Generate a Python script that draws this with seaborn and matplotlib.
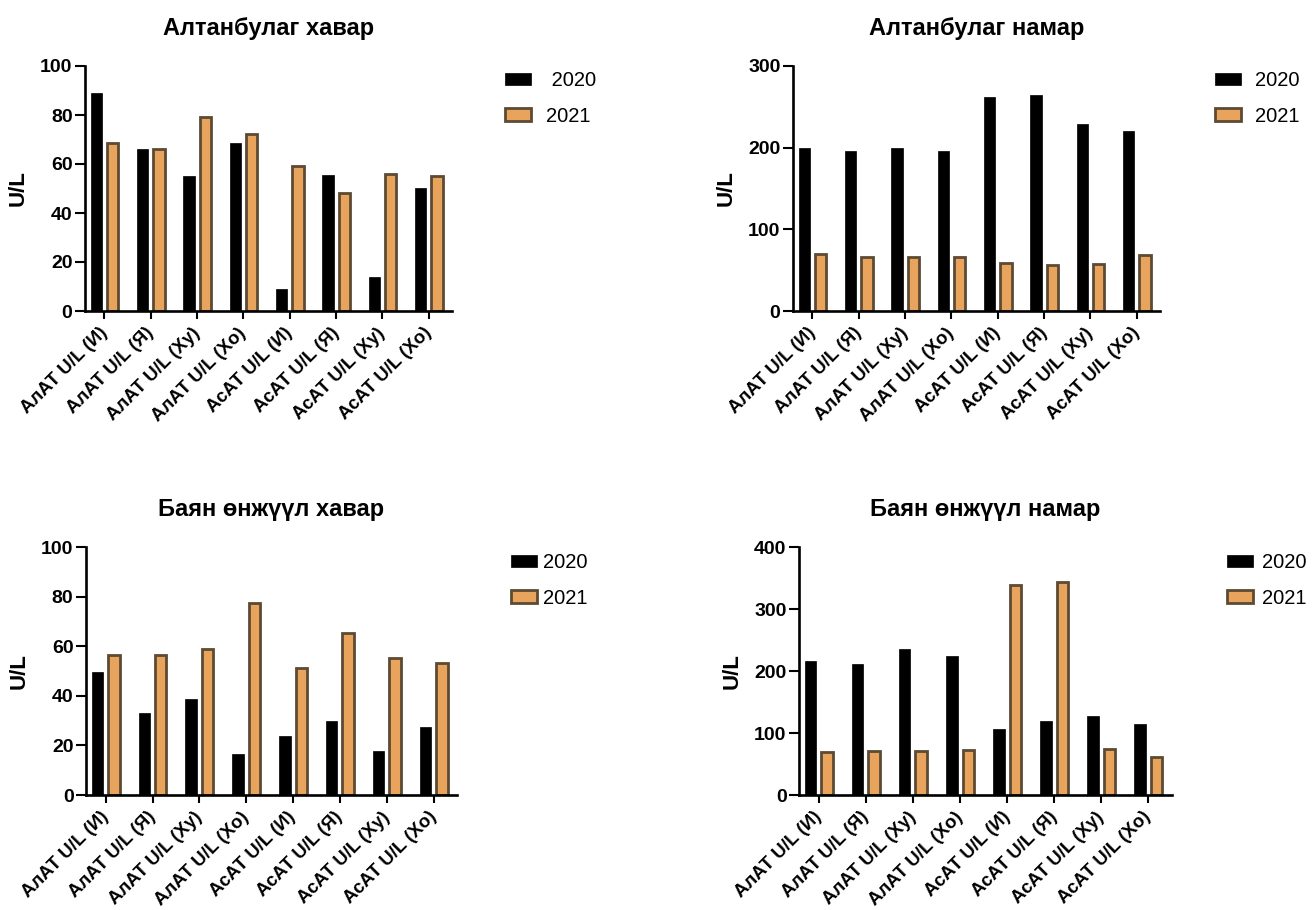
import numpy as np
import pandas as pd
import matplotlib
matplotlib.use("Agg")
import matplotlib.pyplot as plt
import seaborn as sns
from matplotlib.patches import Patch

sns.set_theme(style="white")
plt.rcParams["font.family"] = ["Liberation Sans", "DejaVu Sans"]
plt.rcParams["text.color"] = "black"
plt.rcParams["axes.labelcolor"] = "black"
plt.rcParams["xtick.color"] = "black"
plt.rcParams["ytick.color"] = "black"

# Category labels (shared by all four panels)
categories = ["АлАТ U/L (И)", "АлАТ U/L (Я)", "АлАТ U/L (Xy)", "АлАТ U/L (Xo)",
              "АсАТ U/L (И)", "АсАТ U/L (Я)", "АсАТ U/L (Xy)", "АсАТ U/L (Xo)"]
years = ["2020", "2021"]

# Panel titles
titles = ["Алтанбулаг хавар", "Алтанбулаг намар",
          "Баян өнжүүл хавар", "Баян өнжүүл намар"]

# Series values per panel
altan_spring_2020 = [89, 66.3, 55, 68.7, 9, 55.7, 14, 50.4]
altan_spring_2021 = [68.5, 66, 79.2, 72.2, 59.3, 48.3, 55.9, 55.2]
altan_autumn_2020 = [199, 196, 200, 196, 262, 264, 229, 221]
altan_autumn_2021 = [70, 66, 66, 66, 59, 56, 58, 69]
bayan_spring_2020 = [49.7, 33, 38.7, 16.4, 23.8, 30, 17.9, 27.4]
bayan_spring_2021 = [56.3, 56.3, 59, 77.6, 51.4, 65.3, 55.4, 53.3]
bayan_autumn_2020 = [216, 212, 235, 224, 107, 119, 128, 114]
bayan_autumn_2021 = [69, 71, 71, 72, 339, 343, 75, 62]

# Y-axis tick values per panel
y_ticks = [[0, 20, 40, 60, 80, 100],
           [0, 100, 200, 300],
           [0, 20, 40, 60, 80, 100],
           [0, 100, 200, 300, 400]]

# Legend labels per panel
legend_labels = [[" 2020", "2021"], ["2020", "2021"], ["2020", "2021"], ["2020", "2021"]]

series = [(altan_spring_2020, altan_spring_2021),
          (altan_autumn_2020, altan_autumn_2021),
          (bayan_spring_2020, bayan_spring_2021),
          (bayan_autumn_2020, bayan_autumn_2021)]

W, H = 1314, 910
fig = plt.figure(figsize=(W / 100, H / 100), dpi=100)

# axes boxes in pixels: left, right, top, bottom
boxes = [(85, 452, 66, 311),
         (793, 1160, 66, 311),
         (86, 457, 547, 795),
         (799, 1172, 547, 795)]
# legend anchor in pixels (left of patch, top of first row) and text gap
legend_pos = [(505, 71), (1215, 71), (511, 553), (1227, 553)]
legend_gap = [0.75, 0.7, 0.3, 0.45]

black = "#000000"
orange = "#E8A35C"
brown = "#5C4A33"

for i in range(4):
    l, r, t, b = boxes[i]
    ax = fig.add_axes([l / W, 1 - b / H, (r - l) / W, (b - t) / H])
    v20, v21 = series[i]
    df = pd.DataFrame({
        "cat": categories * 2,
        "val": list(v20) + list(v21),
        "year": [years[0]] * len(categories) + [years[1]] * len(categories),
    })
    sns.barplot(data=df, x="cat", y="val", hue="year", order=categories,
                hue_order=years, palette=[black, orange], width=0.7, gap=0.3,
                saturation=1, legend=False, ax=ax, errorbar=None)
    for bar in ax.containers[0]:
        bar.set_edgecolor(black)
        bar.set_linewidth(0.5)
    for bar in ax.containers[1]:
        bar.set_edgecolor(brown)
        bar.set_linewidth(2.0)

    ax.set_xlim(-0.42, 7.5)
    ax.set_ylim(0, y_ticks[i][-1])
    ax.set_yticks(y_ticks[i])
    ax.set_yticklabels([str(v) for v in y_ticks[i]], fontsize=14, fontweight="bold")
    ax.set_xticks(range(len(categories)))
    ax.set_xticklabels(categories, rotation=45, ha="right", va="center",
                       rotation_mode="anchor", fontsize=13.3, fontweight="bold")
    ax.set_xlabel("")
    ax.set_ylabel("U/L", fontsize=16, fontweight="bold", labelpad=8)
    ax.set_title(titles[i], fontsize=17, fontweight="bold", pad=22)

    for side in ["top", "right"]:
        ax.spines[side].set_visible(False)
    for side in ["left", "bottom"]:
        ax.spines[side].set_linewidth(1.9)
        ax.spines[side].set_color(black)
    ax.tick_params(axis="y", direction="out", length=7, width=1.5, pad=2,
                   left=True)
    ax.tick_params(axis="x", direction="out", length=6, width=1.5, pad=8,
                   bottom=True)

    handles = [Patch(facecolor=black, edgecolor=black, linewidth=0.5),
               Patch(facecolor=orange, edgecolor=brown, linewidth=2.0)]
    lx, ly = legend_pos[i]
    ax.legend(handles, legend_labels[i], loc="upper left",
              bbox_to_anchor=(lx / W, 1 - ly / H), bbox_transform=fig.transFigure,
              frameon=False, fontsize=14.5, handlelength=1.3, handleheight=0.6,
              handletextpad=legend_gap[i], labelspacing=0.82, borderpad=0,
              borderaxespad=0)

fig.savefig("out.png", dpi=100)
